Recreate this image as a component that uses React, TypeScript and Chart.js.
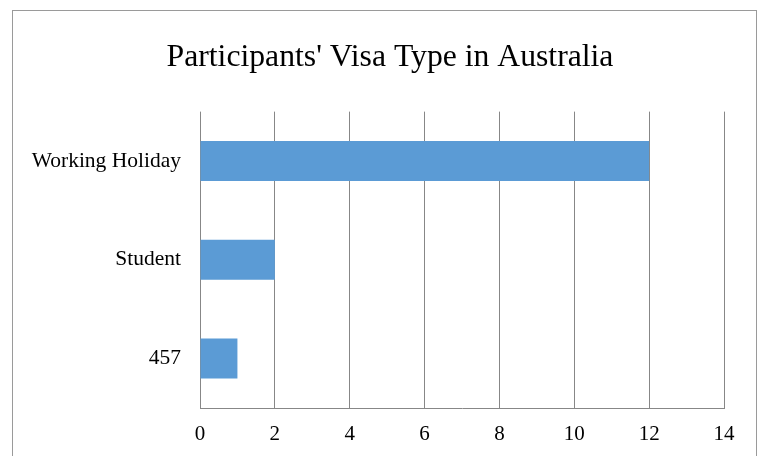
import React, { useEffect, useRef } from "react";
import { Chart, registerables } from "chart.js";

Chart.register(...registerables);

const categories = ["Working Holiday", "Student", "457"];
const participants = [12, 2, 1];
const xTicks = [0, 2, 4, 6, 8, 10, 12, 14];
const titleText = "Participants' Visa Type in Australia";

const FONT = "'Liberation Serif', 'Times New Roman', serif";

const widenLabelArea = {
  id: "widenLabelArea",
  afterLayout(chart: any) {
    const y = chart.scales.y;
    if (y) y.left = 0;
  },
};

export default function App() {
  const ref = useRef<HTMLCanvasElement | null>(null);

  useEffect(() => {
    document.body.style.margin = "0";
    const ctx = ref.current!.getContext("2d")!;
    const chart = new Chart(ctx, {
      type: "bar",
      data: {
        labels: categories,
        datasets: [
          {
            data: participants,
            backgroundColor: "#5B9BD5",
            borderWidth: 0,
            barPercentage: 0.405,
            categoryPercentage: 1,
          },
        ],
      },
      plugins: [widenLabelArea],
      options: {
        indexAxis: "y",
        animation: false,
        responsive: false,
        maintainAspectRatio: false,
        layout: { padding: { left: 56, right: 36, top: 0, bottom: 10 } },
        plugins: {
          legend: { display: false },
          tooltip: { enabled: false },
          title: {
            display: true,
            text: titleText,
            color: "#000",
            font: { family: FONT, size: 31.7, weight: "normal" },
            padding: { top: 39, bottom: 34.6 },
          },
        },
        scales: {
          x: {
            min: 0,
            max: 14,
            afterBuildTicks: (scale: any) => {
              scale.ticks = xTicks.map((v) => ({ value: v }));
            },
            grid: { color: "#878787", lineWidth: 1, drawTicks: false },
            border: { display: true, color: "#878787", width: 1 },
            ticks: {
              color: "#000",
              padding: 13.4,
              font: { family: FONT, size: 21 },
              maxRotation: 0,
            },
          },
          y: {
            afterFit: (scale: any) => {
              scale.width = 144;
            },
            grid: { display: false, drawTicks: false },
            border: { display: false },
            ticks: {
              color: "#000",
              padding: 19,
              font: { family: FONT, size: 21.5 },
            },
          },
        },
      },
    });
    return () => chart.destroy();
  }, []);

  return (
    <div style={{ position: "fixed", left: 0, top: 0, width: 760, height: 456, background: "#fff", overflow: "hidden" }}>
      <div
        style={{
          position: "absolute",
          left: 12,
          top: 10,
          width: 745,
          height: 480,
          border: "1px solid #9a9a9a",
          boxSizing: "border-box",
        }}
      />
      <canvas ref={ref} width={760} height={470} style={{ position: "absolute", left: 0, top: 0 }} />
    </div>
  );
}
